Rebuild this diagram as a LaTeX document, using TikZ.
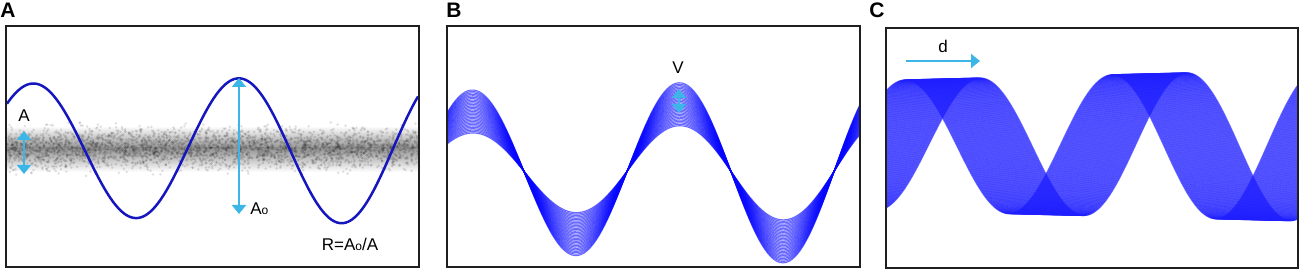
\documentclass[tikz,border=0pt]{standalone}
\usepackage{fontspec}
\setmainfont{Liberation Sans}
\usetikzlibrary{arrows.meta}
\definecolor{wavblue}{RGB}{22,22,190}
\definecolor{bundleblue}{RGB}{5,5,255}
\definecolor{ribbonblue}{RGB}{30,30,255}
\definecolor{arrcyan}{RGB}{59,182,230}
\definecolor{framegrey}{gray}{0.12}
\tikzset{
  panel/.style={draw=framegrey,line width=1pt},
  plabel/.style={font=\fontsize{10.5}{12}\selectfont\bfseries,inner sep=0pt},
  lbl/.style={font=\fontsize{8.5}{10}\selectfont,inner sep=1pt},
  wave/.style={draw=wavblue,line width=1.25pt},
  bcurve/.style={draw=bundleblue,line width=0.55pt,opacity=0.6},
  ccurve/.style={draw=ribbonblue,line width=0.65pt,opacity=0.68},
  dimln/.style={{Triangle[width=7pt,length=4.5pt]}-{Triangle[width=7pt,length=4.5pt]},
                line width=1pt,arrcyan},
  shiftln/.style={-{Triangle[width=7pt,length=4.5pt]},line width=1pt,arrcyan},
}

\begin{document}
\begin{tikzpicture}[x=0.5pt,y=-0.5pt]
\useasboundingbox (0,0) rectangle (1300,271);

% Panel A: noisy band and single wave
\node[plabel] (labA) at (8,10) {A};
\begin{scope}
  \clip (7,27) rectangle (418,266);
  \shade[top color=white,bottom color=black!42] (7,126) rectangle (418,148);
  \shade[top color=black!42,bottom color=white] (7,148) rectangle (418,172);
  \pgfmathsetseed{11}
  \foreach \i in {1,...,3000}{
    \pgfmathsetmacro\nx{7+411*rnd}
    \pgfmathsetmacro\ny{148+10*(rand+rand+rand)}
    \fill[black,opacity=0.12] (\nx,\ny) circle (0.7pt);
  }
  \draw[wave] plot[domain=7:418,samples=200]
    (\x,{149.5-(66+0.025*(\x-33))*cos((\x-33)/205.5*360)});
\end{scope}
\draw[panel] (6,26) rectangle (419,267);

\coordinate (aTop) at (24,131);
\coordinate (aBot) at (24,174);
\draw[dimln] (aTop) -- (aBot);
\node[lbl] (labAmp) at (24,116) {A};

\coordinate (aoTop) at (239,78);
\coordinate (aoBot) at (239,214);
\draw[dimln] (aoTop) -- (aoBot);
\node[lbl,anchor=west] (labAo) at (248,209) {A{\fontsize{6}{7}\selectfont o}};
\node[lbl] (labR) at (350,244) {R=A{\fontsize{6}{7}\selectfont o}/A};

% Panel B: bundle of waves with varying amplitude
\node[plabel] (labB) at (454,10) {B};
\begin{scope}
  \clip (447,27) rectangle (859,266);
  \foreach \k in {0,...,30}{
    \pgfmathsetmacro\amp{38+43*\k/30}
    \draw[bcurve] plot[domain=447:860,samples=140]
      (\x,{171-(\amp+0.035*(\x-472))*cos((\x-472)/207*360)});
  }
\end{scope}
\draw[panel] (447,26) rectangle (860,267);

\coordinate (vTop) at (679,89);
\coordinate (vBot) at (679,113);
\draw[dimln] (vTop) -- (vBot);
\node[lbl] (labV) at (678,68) {V};

% Panel C: ribbon of shifted waves
\node[plabel] (labC) at (877,10) {C};
\begin{scope}
  \clip (887,29) rectangle (1297,267);
  \foreach \k in {0,...,70}{
    \pgfmathsetmacro\sh{75*\k/70}
    \draw[ccurve] plot[domain=886:1298,samples=160]
      (\x,{145.5-(65.5+0.025*(\x-905))*cos((\x-905-\sh)/207*360)});
  }
\end{scope}
\draw[panel] (886,28) rectangle (1298,268);

\coordinate (dStart) at (906,61);
\coordinate (dEnd) at (980,61);
\draw[shiftln] (dStart) -- (dEnd);
\node[lbl] (labD) at (943,46) {d};

\end{tikzpicture}
\end{document}
